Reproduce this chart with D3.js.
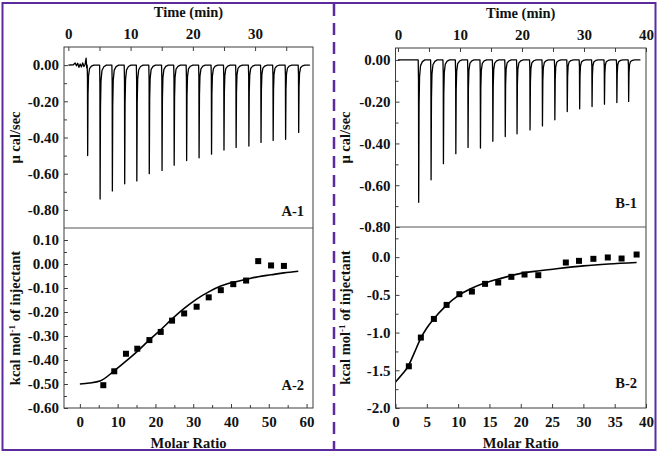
<!DOCTYPE html>
<html><head><meta charset="utf-8">
<script src="https://cdn.jsdelivr.net/npm/d3@7/dist/d3.min.js"></script>
<style>
html,body{margin:0;padding:0;background:#fff;}
svg text{font-family:"Liberation Serif","Times New Roman",serif;font-weight:bold;fill:#111;}
</style></head>
<body><svg id="c" width="660" height="456"></svg>
<script>
// ---------- DATA ----------
// A-1 thermogram: injection times (min) and peak depths (µcal/sec)
const A1_injTime = [3.1,5.1,7.07,9.05,11.0,13.0,15.05,17.0,19.0,21.0,23.0,25.0,26.95,29.0,30.95,32.9,34.9,37.0];
const A1_peak = [-0.50,-0.74,-0.695,-0.656,-0.64,-0.60,-0.582,-0.553,-0.527,-0.512,-0.492,-0.469,-0.455,-0.447,-0.427,-0.416,-0.41,-0.372];
// A-1 baseline noise before first injection [time, value]
const A1_noiseT = [0,0.8,1.1,1.3,1.5,1.7,1.9,2.1,2.3,2.5,2.7,2.85,2.95,3.0];
const A1_noiseV = [0,0.002,0.012,-0.004,0.01,-0.012,0.006,-0.01,0.012,-0.008,0.005,0.038,-0.015,0];
const A1_end = 38.8;
// B-1 thermogram
const B1_injTime = [3.34,5.34,7.33,9.33,11.3,13.3,15.3,17.3,19.2,21.3,23.3,25.3,27.3,29.3,31.3,33.3,35.3,37.2];
const B1_peak = [-0.682,-0.574,-0.497,-0.449,-0.419,-0.422,-0.39,-0.367,-0.354,-0.335,-0.316,-0.287,-0.247,-0.234,-0.223,-0.212,-0.204,-0.199];
const B1_end = 39.1;
// A-2 integrated heats
const A2_x = [6.2,9.1,12.2,15.2,18.4,21.4,24.4,27.6,30.9,34.1,37.3,40.6,44.0,47.2,50.6,54.0];
const A2_y = [-0.505,-0.447,-0.374,-0.353,-0.317,-0.283,-0.236,-0.206,-0.178,-0.139,-0.109,-0.084,-0.069,0.012,-0.006,-0.008];
// A-2 fitted curve
const A2_fitX = [0,2.5,5.3,9.1,12.2,15.2,18.4,21.4,24.4,27.6,30.9,34.1,37.3,40.6,44.0,47.2,50.6,54.0,57.8];
const A2_fitY = [-0.500,-0.496,-0.488,-0.445,-0.405,-0.364,-0.316,-0.274,-0.229,-0.185,-0.146,-0.116,-0.092,-0.076,-0.064,-0.053,-0.045,-0.037,-0.030];
// B-2 integrated heats
const B2_x = [2.13,4.05,6.13,8.16,10.2,12.2,14.3,16.4,18.5,20.6,22.8,27.2,29.3,31.6,33.9,36.1,38.5];
const B2_y = [-1.447,-1.066,-0.819,-0.633,-0.491,-0.456,-0.354,-0.336,-0.261,-0.230,-0.239,-0.071,-0.049,-0.022,-0.004,-0.018,0.035];
// B-2 fitted curve
const B2_fitX = [0,1,2,3,4,5,6,8,10,12,14,16,18,20,23,26,30,34,38.5];
const B2_fitY = [-1.655,-1.56,-1.45,-1.27,-1.08,-0.94,-0.83,-0.65,-0.51,-0.42,-0.35,-0.30,-0.255,-0.215,-0.18,-0.15,-0.115,-0.09,-0.07];
// tick values
const timeMajorA = [0,10,20,30], timeMinorA = [5,15,25,35];
const timeMajorB = [0,10,20,30,40], timeMinorB = [5,15,25,35];
const A1_yMajor = [0,-0.2,-0.4,-0.6,-0.8], A1_yMinor = [-0.1,-0.3,-0.5,-0.7];
const B1_yMajor = [0,-0.2,-0.4,-0.6,-0.8], B1_yMinor = [-0.1,-0.3,-0.5,-0.7];
const A2_yMajor = [0.1,0,-0.1,-0.2,-0.3,-0.4,-0.5,-0.6], A2_yMinor = [0.05,-0.05,-0.15,-0.25,-0.35,-0.45,-0.55];
const A2_xMajor = [0,10,20,30,40,50,60], A2_xMinor = [5,15,25,35,45,55];
const B2_yMajor = [0,-0.5,-1.0,-1.5,-2.0], B2_yMinor = [0.25,-0.25,-0.75,-1.25,-1.75];
const B2_xMajor = [0,5,10,15,20,25,30,35,40];
// spike shape template: [time offset (min), fraction of peak depth]
const spikeShape = [[-0.08,0],[-0.03,0.14],[0,1],[0.06,0.32],[0.14,0.12],[0.3,0.04],[0.6,0.012],[1.0,0]];

// ---------- DRAW ----------
const svg = d3.select("#c");
const purple = "#5b2b9e";
const frameCol = "#3c3c3c";

function traceFrom(inj, peaks, end, noiseT, noiseV){
  const pts = [];
  if(noiseT){ noiseT.forEach((t,i)=>pts.push([t,noiseV[i]])); }
  else pts.push([0,0]);
  inj.forEach((t0,i)=>{
    spikeShape.forEach(s=>pts.push([t0+s[0], peaks[i]*s[1]]));
  });
  pts.push([end,0]);
  return pts;
}

function axisG(gen, tr){
  const g = svg.append("g").attr("transform", tr).call(gen);
  g.select(".domain").remove();
  g.selectAll("line").attr("stroke", frameCol).attr("stroke-width",1);
  g.selectAll("text").attr("font-size","15px").attr("fill","#111")
    .text(function(){ return this.textContent.replace("\u2212","-"); });
  return g;
}

function panel(cfg){
  const {x0,x1,yTop,yMid,yBot} = cfg;
  const xt = d3.scaleLinear().domain(cfg.tDomain).range([x0,x1]);
  const yt = d3.scaleLinear().domain(cfg.topYDomain).range([yMid,yTop]);
  const xb = d3.scaleLinear().domain(cfg.bxDomain).range([x0,x1]);
  const yb = d3.scaleLinear().domain(cfg.botYDomain).range([yBot,yMid]);

  axisG(d3.axisTop(xt).tickValues(cfg.tMajor).tickSize(-4).tickPadding(8).tickFormat(d3.format("d")), `translate(0,${yTop})`);
  axisG(d3.axisTop(xt).tickValues(cfg.tMinor).tickSize(-4).tickFormat(""), `translate(0,${yTop})`);
  axisG(d3.axisLeft(yt).tickValues(cfg.topYMajor).tickSize(-4).tickPadding(5).tickFormat(d3.format(".2f")), `translate(${x0},0)`);
  axisG(d3.axisLeft(yt).tickValues(cfg.topYMinor).tickSize(-3).tickFormat(""), `translate(${x0},0)`);
  axisG(d3.axisLeft(yb).tickValues(cfg.botYMajor).tickSize(-4).tickPadding(5).tickFormat(d3.format(cfg.botFmt)), `translate(${x0},0)`);
  axisG(d3.axisLeft(yb).tickValues(cfg.botYMinor).tickSize(-3).tickFormat(""), `translate(${x0},0)`);
  axisG(d3.axisBottom(xb).tickValues(cfg.bxMajor).tickSize(-4).tickPadding(8).tickFormat(d3.format("d")), `translate(0,${yBot})`);
  if(cfg.bxMinor) axisG(d3.axisBottom(xb).tickValues(cfg.bxMinor).tickSize(-3).tickFormat(""), `translate(0,${yBot})`);

  // thermogram
  const clipId = "clip"+cfg.id;
  svg.append("clipPath").attr("id",clipId).append("rect").attr("x",x0).attr("y",yTop).attr("width",x1-x0).attr("height",yMid-yTop);
  svg.append("path").datum(cfg.trace).attr("clip-path",`url(#${clipId})`)
    .attr("d", d3.line().x(d=>xt(d[0])).y(d=>yt(d[1])))
    .attr("fill","none").attr("stroke","#000").attr("stroke-width",1.3).attr("stroke-linejoin","round");

  // fit line
  svg.append("path").datum(cfg.fitX.map((v,i)=>[v,cfg.fitY[i]]))
    .attr("d", d3.line().curve(d3.curveMonotoneX).x(d=>xb(d[0])).y(d=>yb(d[1])))
    .attr("fill","none").attr("stroke","#000").attr("stroke-width",1.6);
  // points
  svg.append("g").selectAll("rect").data(cfg.px.map((v,i)=>[v,cfg.py[i]])).join("rect")
    .attr("x",d=>xb(d[0])-3).attr("y",d=>yb(d[1])-3).attr("width",6).attr("height",6).attr("fill","#000");

  // frames
  svg.append("rect").attr("x",x0).attr("y",yTop).attr("width",x1-x0).attr("height",yBot-yTop)
    .attr("fill","none").attr("stroke",frameCol).attr("stroke-width",1);
  svg.append("line").attr("x1",x0).attr("x2",x1).attr("y1",yMid).attr("y2",yMid).attr("stroke","#555").attr("stroke-width",1.2);

  // titles
  const cx = (x0+x1)/2;
  svg.append("text").attr("x",cx).attr("y",yTop-30).attr("text-anchor","middle").attr("font-size","14.5px").text("Time (min)");
  svg.append("text").attr("x",cx).attr("y",yBot+40).attr("text-anchor","middle").attr("font-size","14.5px").text("Molar Ratio");
  svg.append("text").attr("transform",`translate(${cfg.ytX},${(yTop+yMid)/2}) rotate(-90)`).attr("text-anchor","middle").attr("font-size","14.5px").text("\u03bc cal/sec");
  const kt = svg.append("text").attr("transform",`translate(${cfg.ytX},${(yMid+yBot)/2}) rotate(-90)`).attr("text-anchor","middle").attr("font-size","14.5px");
  kt.append("tspan").text("kcal mol");
  kt.append("tspan").attr("font-size","9px").attr("dy","-5").text("-1");
  kt.append("tspan").attr("dy","5").text(" of injectant");
  // panel labels
  svg.append("text").attr("x",x1-9).attr("y",cfg.lab1Y).attr("text-anchor","end").attr("font-size","14.5px").text(cfg.lab1);
  svg.append("text").attr("x",x1-9).attr("y",cfg.lab2Y).attr("text-anchor","end").attr("font-size","14.5px").text(cfg.lab2);
}

panel({id:"A", x0:64, x1:313, yTop:47, yMid:228, yBot:408,
  tDomain:[-0.7,39.3], topYDomain:[-0.9,0.1], bxDomain:[-4.2,61.7], botYDomain:[-0.6,0.15],
  tMajor:timeMajorA, tMinor:timeMinorA, topYMajor:A1_yMajor, topYMinor:A1_yMinor,
  botYMajor:A2_yMajor, botYMinor:A2_yMinor, botFmt:".2f", bxMajor:A2_xMajor, bxMinor:A2_xMinor,
  trace:traceFrom(A1_injTime,A1_peak,A1_end,A1_noiseT,A1_noiseV),
  fitX:A2_fitX, fitY:A2_fitY, px:A2_x, py:A2_y, ytX:20,
  lab1:"A-1", lab1Y:216, lab2:"A-2", lab2Y:390});

panel({id:"B", x0:395.5, x1:646, yTop:48, yMid:227, yBot:408,
  tDomain:[-0.4,40], topYDomain:[-0.8,0.057], bxDomain:[0,40], botYDomain:[-2.0,0.4],
  tMajor:timeMajorB, tMinor:timeMinorB, topYMajor:B1_yMajor, topYMinor:B1_yMinor,
  botYMajor:B2_yMajor, botYMinor:B2_yMinor, botFmt:".1f", bxMajor:B2_xMajor, bxMinor:null,
  trace:traceFrom(B1_injTime,B1_peak,B1_end,null,null),
  fitX:B2_fitX, fitY:B2_fitY, px:B2_x, py:B2_y, ytX:350,
  lab1:"B-1", lab1Y:208, lab2:"B-2", lab2Y:388});

// outer border and dashed separator
svg.append("rect").attr("x",2.5).attr("y",3).attr("width",653).attr("height",447)
  .attr("fill","none").attr("stroke",purple).attr("stroke-width",2);
svg.append("line").attr("x1",334).attr("x2",334).attr("y1",4).attr("y2",449)
  .attr("stroke",purple).attr("stroke-width",2.5).attr("stroke-dasharray","12,7");
</script></body></html>
